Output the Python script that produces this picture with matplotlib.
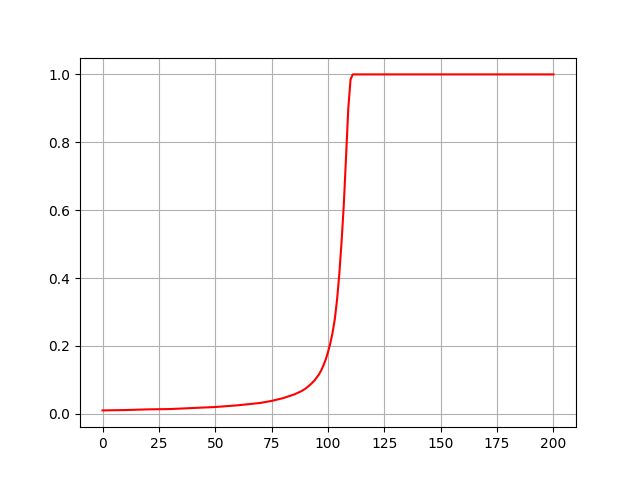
import matplotlib
matplotlib.use("Agg")
import matplotlib.pyplot as plt

# values
x_vals = [0, 10, 20, 30, 40, 50, 60, 70, 75, 80, 85, 88, 90, 92, 94, 96, 97, 98,
          99, 100, 101, 102, 103, 104, 105, 106, 107, 108, 109, 110, 111, 112, 200]
y_vals = [0.010, 0.011, 0.013, 0.014, 0.017, 0.020, 0.025, 0.032, 0.038,
          0.046, 0.057, 0.066, 0.074, 0.085, 0.098, 0.116, 0.128, 0.143,
          0.160, 0.182, 0.207, 0.238, 0.278, 0.335, 0.410, 0.505, 0.615,
          0.757, 0.900, 0.985, 1.0, 1.0, 1.0]

fig, ax = plt.subplots(figsize=(6.4, 4.8), dpi=100)
ax.plot(x_vals, y_vals, color="red")
ax.grid(True)
fig.savefig("out.png")
